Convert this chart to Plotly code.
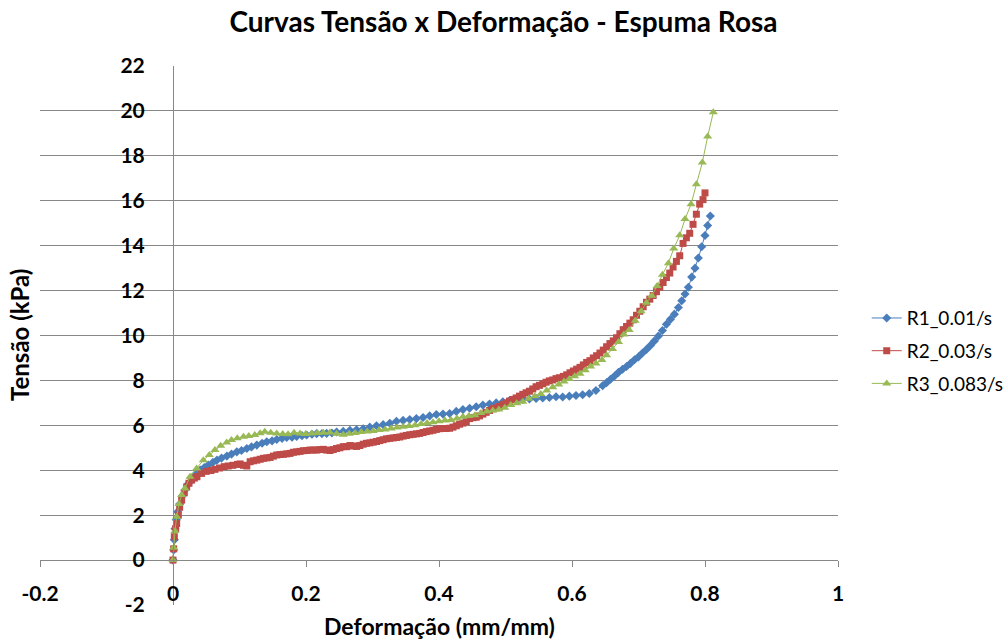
import plotly.graph_objects as go

# Stress-strain data for pink foam, three strain rates
r1_x = [0, 0.001, 0.002, 0.003, 0.005, 0.007, 0.010, 0.014, 0.018, 0.023, 0.028, 0.034, 0.041, 0.047,
        0.053, 0.060, 0.066, 0.073, 0.081, 0.088, 0.096, 0.103, 0.111, 0.118, 0.126, 0.134, 0.141, 0.149,
        0.156, 0.164, 0.171, 0.179, 0.186, 0.194, 0.201, 0.209, 0.216, 0.224, 0.231, 0.239, 0.246, 0.256,
        0.266, 0.276, 0.286, 0.296, 0.306, 0.316, 0.326, 0.336, 0.346, 0.356, 0.366, 0.376, 0.386, 0.396,
        0.406, 0.416, 0.426, 0.436, 0.446, 0.456, 0.466, 0.476, 0.486, 0.496, 0.506, 0.516, 0.526, 0.536,
        0.546, 0.556, 0.566, 0.576, 0.586, 0.596, 0.606, 0.616, 0.626, 0.636, 0.646, 0.652, 0.658, 0.664,
        0.670, 0.676, 0.682, 0.688, 0.694, 0.700, 0.706, 0.712, 0.718, 0.724, 0.730, 0.736, 0.742, 0.748,
        0.754, 0.760, 0.765, 0.770, 0.775, 0.780, 0.785, 0.790, 0.795, 0.800, 0.804, 0.808]
r1_y = [0.0, 0.45, 0.9, 1.4, 1.8, 2.15, 2.5, 2.85, 3.12, 3.4, 3.64, 3.83, 4.01, 4.12,
        4.23, 4.35, 4.45, 4.54, 4.63, 4.72, 4.82, 4.88, 4.97, 5.04, 5.12, 5.20, 5.27, 5.31,
        5.37, 5.42, 5.46, 5.47, 5.50, 5.54, 5.57, 5.60, 5.63, 5.63, 5.64, 5.66, 5.70, 5.73,
        5.78, 5.80, 5.85, 5.92, 5.98, 6.03, 6.09, 6.18, 6.22, 6.26, 6.30, 6.35, 6.42, 6.48,
        6.50, 6.53, 6.62, 6.70, 6.76, 6.83, 6.90, 6.95, 7.00, 7.05, 7.10, 7.12, 7.15, 7.17,
        7.20, 7.22, 7.24, 7.27, 7.26, 7.30, 7.33, 7.36, 7.42, 7.55, 7.76, 7.90, 8.05, 8.20,
        8.36, 8.50, 8.62, 8.76, 8.92, 9.05, 9.22, 9.38, 9.56, 9.76, 9.98, 10.22, 10.50, 10.72,
        10.95, 11.25, 11.55, 11.85, 12.15, 12.60, 13.00, 13.45, 13.95, 14.45, 14.90, 15.32]

r2_x = [0, 0.001, 0.002, 0.004, 0.0055, 0.008, 0.010, 0.013, 0.017, 0.0206, 0.024, 0.028, 0.032, 0.036,
        0.043, 0.050, 0.057, 0.063, 0.070, 0.077, 0.083, 0.090, 0.097, 0.101, 0.106, 0.111, 0.116, 0.121,
        0.126, 0.131, 0.136, 0.141, 0.146, 0.151, 0.156, 0.161, 0.166, 0.171, 0.176, 0.181, 0.186, 0.191,
        0.196, 0.201, 0.206, 0.211, 0.216, 0.221, 0.226, 0.231, 0.236, 0.241, 0.246, 0.251, 0.256, 0.261,
        0.266, 0.271, 0.276, 0.281, 0.286, 0.291, 0.296, 0.301, 0.306, 0.311, 0.316, 0.321, 0.326, 0.331,
        0.336, 0.341, 0.346, 0.351, 0.356, 0.361, 0.366, 0.371, 0.376, 0.381, 0.386, 0.391, 0.396, 0.401,
        0.406, 0.411, 0.416, 0.421, 0.426, 0.431, 0.436, 0.441, 0.446, 0.451, 0.456, 0.461, 0.466, 0.471,
        0.476, 0.481, 0.486, 0.491, 0.496, 0.501, 0.506, 0.511, 0.516, 0.521, 0.526, 0.531, 0.536, 0.541,
        0.546, 0.551, 0.556, 0.561, 0.566, 0.571, 0.576, 0.581, 0.587, 0.592, 0.597, 0.602, 0.607, 0.612,
        0.617, 0.622, 0.627, 0.632, 0.637, 0.642, 0.647, 0.652, 0.657, 0.662, 0.667, 0.672, 0.677, 0.682,
        0.687, 0.692, 0.697, 0.702, 0.707, 0.712, 0.717, 0.722, 0.727, 0.732, 0.737, 0.742, 0.747, 0.752,
        0.757, 0.762, 0.767, 0.772, 0.777, 0.782, 0.787, 0.792, 0.797, 0.800]
r2_y = [0.0, 0.5, 1.04, 1.4, 1.63, 2.0, 2.35, 2.67, 3.0, 3.26, 3.42, 3.56, 3.65, 3.71,
        3.86, 3.95, 3.99, 4.04, 4.10, 4.16, 4.19, 4.22, 4.26, 4.28, 4.22, 4.19, 4.38, 4.42,
        4.45, 4.49, 4.53, 4.55, 4.57, 4.63, 4.68, 4.70, 4.71, 4.73, 4.75, 4.80, 4.82, 4.84,
        4.87, 4.88, 4.90, 4.90, 4.90, 4.92, 4.93, 4.90, 4.88, 4.92, 4.97, 5.00, 5.05, 5.05,
        5.10, 5.08, 5.06, 5.10, 5.16, 5.20, 5.22, 5.25, 5.28, 5.32, 5.36, 5.40, 5.42, 5.44,
        5.46, 5.48, 5.52, 5.55, 5.58, 5.60, 5.62, 5.64, 5.68, 5.72, 5.75, 5.78, 5.82, 5.85,
        5.86, 5.86, 5.87, 5.92, 5.98, 6.05, 6.10, 6.16, 6.30, 6.34, 6.36, 6.42, 6.50, 6.58,
        6.66, 6.74, 6.78, 6.84, 6.92, 7.00, 7.08, 7.15, 7.22, 7.30, 7.38, 7.45, 7.52, 7.62,
        7.72, 7.78, 7.85, 7.92, 7.98, 8.02, 8.08, 8.12, 8.18, 8.25, 8.34, 8.42, 8.50, 8.58,
        8.69, 8.80, 8.88, 9.00, 9.10, 9.22, 9.35, 9.50, 9.64, 9.76, 9.90, 10.08, 10.26, 10.40,
        10.55, 10.70, 10.90, 11.08, 11.28, 11.48, 11.62, 11.78, 11.95, 12.15, 12.36, 12.58, 12.78, 13.05,
        13.30, 13.55, 14.10, 14.35, 14.55, 14.95, 15.40, 15.85, 16.05, 16.35]

r3_x = [0, 0.001, 0.003, 0.0055, 0.009, 0.013, 0.018, 0.0256, 0.0356, 0.0456, 0.0546, 0.063, 0.0717,
        0.0807, 0.088, 0.0967, 0.106, 0.114, 0.123, 0.131, 0.138, 0.147, 0.156, 0.165, 0.173, 0.182,
        0.191, 0.1995, 0.2085, 0.217, 0.226, 0.236, 0.246, 0.256, 0.265, 0.274, 0.283, 0.292, 0.301,
        0.310, 0.319, 0.328, 0.337, 0.346, 0.355, 0.364, 0.373, 0.382, 0.391, 0.400, 0.409, 0.418,
        0.427, 0.436, 0.445, 0.454, 0.463, 0.472, 0.481, 0.490, 0.499, 0.508, 0.517, 0.526, 0.535,
        0.544, 0.553, 0.562, 0.571, 0.580, 0.588, 0.596, 0.604, 0.612, 0.620, 0.628, 0.636, 0.645,
        0.652, 0.661, 0.670, 0.678, 0.686, 0.695, 0.704, 0.712, 0.720, 0.728, 0.736, 0.745, 0.753,
        0.762, 0.770, 0.779, 0.787, 0.796, 0.804, 0.8125]
r3_y = [0.0, 0.55, 1.3, 1.93, 2.5, 2.9, 3.19, 3.71, 4.08, 4.45, 4.68, 4.90, 5.09,
        5.24, 5.35, 5.42, 5.49, 5.52, 5.57, 5.65, 5.71, 5.67, 5.64, 5.61, 5.60, 5.67,
        5.64, 5.61, 5.64, 5.66, 5.67, 5.68, 5.62, 5.58, 5.62, 5.66, 5.70, 5.72, 5.75,
        5.79, 5.82, 5.86, 5.90, 5.94, 5.97, 6.00, 6.06, 6.10, 6.14, 6.18, 6.22, 6.24,
        6.30, 6.38, 6.42, 6.45, 6.55, 6.62, 6.66, 6.70, 6.78, 6.90, 6.98, 7.05, 7.18,
        7.30, 7.40, 7.55, 7.70, 7.82, 7.95, 8.06, 8.18, 8.30, 8.45, 8.62, 8.75, 8.91,
        9.12, 9.40, 9.71, 10.04, 10.25, 10.66, 11.08, 11.46, 11.77, 12.20, 12.71, 13.22, 13.87,
        14.46, 15.19, 15.84, 16.73, 17.70, 18.86, 19.94]

x_ticks = [-0.2, 0, 0.2, 0.4, 0.6, 0.8, 1]
x_tick_text = ["-0.2", "0", "0.2", "0.4", "0.6", "0.8", "1"]
y_ticks = [-2, 0, 2, 4, 6, 8, 10, 12, 14, 16, 18, 20, 22]
y_tick_text = ["-2", "0", "2", "4", "6", "8", "10", "12", "14", "16", "18", "20", "22"]

FONT = "Lato"
GRID = "#878787"

fig = go.Figure()
series = [
    ("R1_0.01/s", r1_x, r1_y, "#4A7EBB", "diamond", 7),
    ("R2_0.03/s", r2_x, r2_y, "#BE4B48", "square", 7),
    ("R3_0.083/s", r3_x, r3_y, "#98B954", "triangle-up", 8),
]
for name, xs, ys, color, symbol, size in series:
    fig.add_trace(go.Scatter(
        x=xs, y=ys, name=name, mode="lines+markers",
        line=dict(color=color, width=1),
        marker=dict(color=color, symbol=symbol, size=size, line=dict(width=0)),
        legendgroup=name,
    ))

fig.update_layout(
    width=1007, height=642,
    margin=dict(l=40, r=169, t=66, b=37, autoexpand=False),
    paper_bgcolor="white", plot_bgcolor="white",
    font=dict(family=FONT, color="#000000"),
    title=dict(text="<b>Curvas Tensão x Deformação - Espuma Rosa</b>",
               x=0.5, xanchor="center", y=0.966, yanchor="middle",
               font=dict(size=28, family=FONT)),
    xaxis=dict(
        range=[-0.2, 1], tickvals=x_ticks, ticktext=x_tick_text,
        showgrid=False, zeroline=False,
        anchor="free", position=2 / 24,
        showline=True, linecolor=GRID, linewidth=1,
        ticks="outside", ticklen=6, tickcolor=GRID,
        ticklabelstandoff=9,
        tickfont=dict(size=21, family=FONT, weight="bold"),
    ),
    yaxis=dict(
        range=[-2, 22], tickvals=y_ticks, ticktext=y_tick_text,
        showgrid=True, gridcolor=GRID, gridwidth=1, zeroline=False,
        anchor="free", position=1 / 6,
        showline=True, linecolor=GRID, linewidth=1,
        ticks="", ticklabelstandoff=24,
        tickfont=dict(size=21, family=FONT, weight="bold"),
    ),
    legend=dict(
        x=1.036, xanchor="left", y=0.471, yanchor="middle",
        font=dict(size=19, family=FONT), tracegroupgap=5,
        bgcolor="rgba(0,0,0,0)",
    ),
    annotations=[
        dict(text="<b>Tensão (kPa)</b>", xref="paper", yref="paper",
             x=-0.025, y=0.501, textangle=-90, showarrow=False,
             xanchor="center", yanchor="middle", font=dict(size=24, family=FONT)),
        dict(text="<b>Deformação (mm/mm)</b>", xref="paper", yref="paper",
             x=0.5, y=-0.039, showarrow=False,
             xanchor="center", yanchor="middle", font=dict(size=23, family=FONT)),
    ],
)

fig.write_html("out.html")
